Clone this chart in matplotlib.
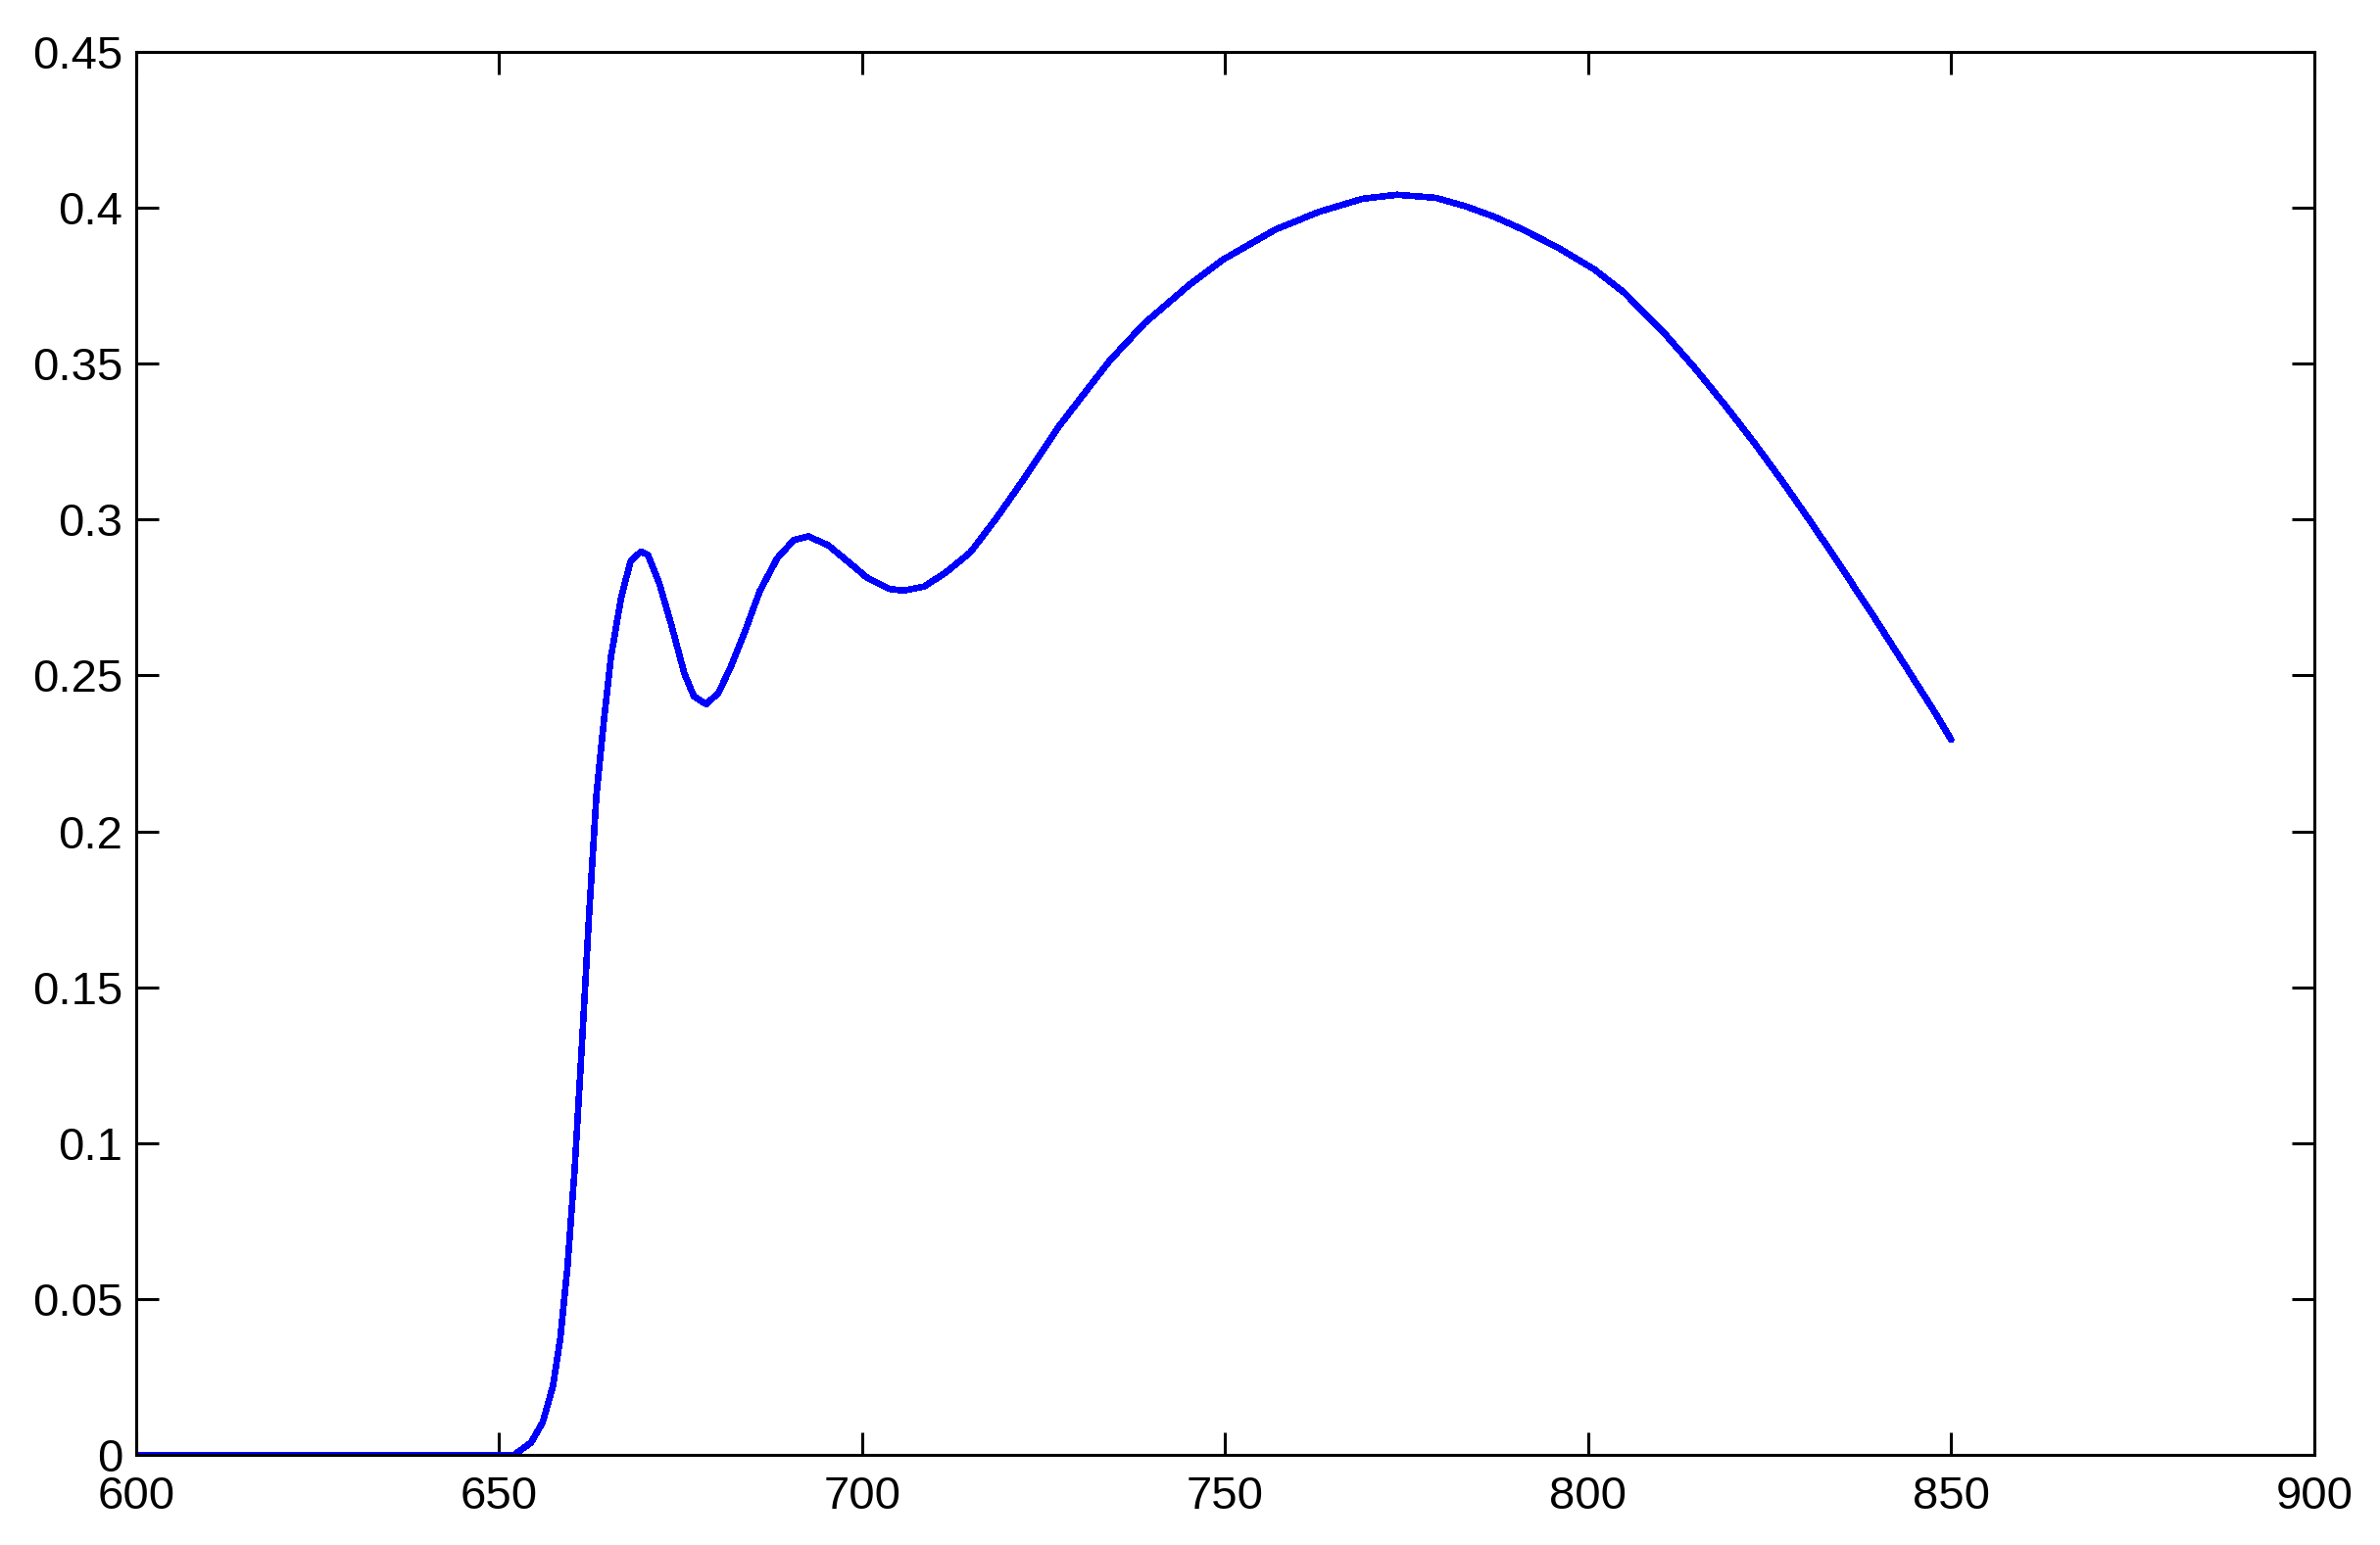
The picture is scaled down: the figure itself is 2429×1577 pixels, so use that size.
import numpy as np
import matplotlib
matplotlib.use("Agg")
import matplotlib.pyplot as plt
from matplotlib.ticker import FuncFormatter

# values
wavelength = [600, 652, 652.3, 654.4, 656.0, 657.4, 658.4, 659.4, 660.4, 661.4,
              662.4, 663.4, 664.4, 665.4, 666.8, 668.1, 669.5, 670.5, 672.1, 673.8,
              675.5, 676.8, 678.5, 680.2, 681.9, 683.9, 685.9, 688.3, 690.6, 692.6,
              695.3, 698.0, 700.7, 703.7, 705.6, 708.5, 711.5, 714.9, 718.5, 722.1,
              726.9, 730.5, 734.1, 738.9, 744.9, 749.7, 756.9, 762.9, 768.9, 773.7,
              779.0, 783.1, 787.0, 791.0, 796.0, 800.8, 805.0, 810.5, 814.6, 818.7,
              822.9, 827.0, 831.1, 835.3, 839.4, 843.5, 847.7, 850]
response = [0, 0, 0.0004, 0.004, 0.0105, 0.022, 0.037, 0.060, 0.0917, 0.1317,
            0.1738, 0.2118, 0.2349, 0.256, 0.275, 0.2866, 0.2897, 0.2887, 0.2792, 0.2655,
            0.2507, 0.2434, 0.2408, 0.2444, 0.2528, 0.2644, 0.2771, 0.2876, 0.2935, 0.2946,
            0.2918, 0.2866, 0.2813, 0.2778, 0.2772, 0.2785, 0.2830, 0.2895, 0.3005, 0.3125,
            0.3293, 0.3402, 0.351, 0.363, 0.375, 0.3834, 0.393, 0.3987, 0.4029, 0.4042,
            0.4032, 0.4005, 0.3972, 0.3930, 0.3870, 0.3803, 0.3727, 0.3597, 0.3488, 0.3371,
            0.3245, 0.3114, 0.2977, 0.2831, 0.2686, 0.2537, 0.2383, 0.2294]

xticks = [600, 650, 700, 750, 800, 850, 900]
yticks = [0, 0.05, 0.1, 0.15, 0.2, 0.25, 0.3, 0.35, 0.4, 0.45]

plt.rcParams['font.family'] = ['Liberation Sans', 'DejaVu Sans']

fig = plt.figure(figsize=(2429 / 200, 1577 / 200), dpi=200)
ax = fig.add_axes([0.0572, 0.0583, 0.9724 - 0.0572, 0.9664 - 0.0583])

ax.plot(wavelength, response, color='#0000ff', lw=2.0, antialiased=False,
        solid_joinstyle='round', solid_capstyle='round')

ax.set_xlim(600, 900)
ax.set_ylim(0, 0.45)
ax.set_xticks(xticks)
ax.set_yticks(yticks)
ax.yaxis.set_major_formatter(FuncFormatter(lambda v, p: '%g' % round(v, 2)))
ax.tick_params(direction='in', length=8.3, width=1.1, labelsize=17,
               top=True, right=True)
ax.tick_params(axis='x', pad=7.5)
ax.tick_params(axis='y', pad=5)
for s in ax.spines.values():
    s.set_linewidth(1.1)

fig.savefig('out.png', dpi=200)
